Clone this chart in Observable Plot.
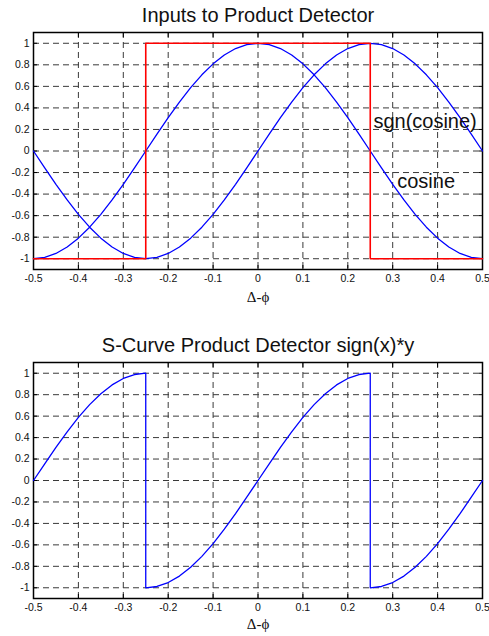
<!DOCTYPE html>
<html>
<head>
<meta charset="utf-8">
<script src="https://cdn.jsdelivr.net/npm/d3@7"></script>
<script src="https://cdn.jsdelivr.net/npm/@observablehq/plot@0.6"></script>
<style>
  html, body { margin: 0; padding: 0; background: #fff; }
  #chart svg { display: block; }
</style>
</head>
<body>
<div id="chart"></div>
<script>
// ---- data ----
const titleTop = "Inputs to Product Detector";
const titleBottom = "S-Curve Product Detector sign(x)*y";
const xLabel = "Δ-ϕ";

const xTicks = [-0.5, -0.4, -0.3, -0.2, -0.1, 0, 0.1, 0.2, 0.3, 0.4, 0.5];
const xTickLabels = ["-0.5", "-0.4", "-0.3", "-0.2", "-0.1", "0", "0.1", "0.2", "0.3", "0.4", "0.5"];
const yTicks = [-1, -0.8, -0.6, -0.4, -0.2, 0, 0.2, 0.4, 0.6, 0.8, 1];
const yTickLabels = ["-1", "-0.8", "-0.6", "-0.4", "-0.2", "0", "0.2", "0.4", "0.6", "0.8", "1"];

const phase = [-0.5, -0.475, -0.45, -0.425, -0.4, -0.375, -0.35, -0.325, -0.3, -0.275,
  -0.25, -0.225, -0.2, -0.175, -0.15, -0.125, -0.1, -0.075, -0.05, -0.025,
  0, 0.025, 0.05, 0.075, 0.1, 0.125, 0.15, 0.175, 0.2, 0.225,
  0.25, 0.275, 0.3, 0.325, 0.35, 0.375, 0.4, 0.425, 0.45, 0.475, 0.5];
const cosine = [-1, -0.988, -0.951, -0.891, -0.809, -0.707, -0.588, -0.454, -0.309, -0.156,
  0, 0.156, 0.309, 0.454, 0.588, 0.707, 0.809, 0.891, 0.951, 0.988,
  1, 0.988, 0.951, 0.891, 0.809, 0.707, 0.588, 0.454, 0.309, 0.156,
  0, -0.156, -0.309, -0.454, -0.588, -0.707, -0.809, -0.891, -0.951, -0.988, -1];
const sine = [0, -0.156, -0.309, -0.454, -0.588, -0.707, -0.809, -0.891, -0.951, -0.988,
  -1, -0.988, -0.951, -0.891, -0.809, -0.707, -0.588, -0.454, -0.309, -0.156,
  0, 0.156, 0.309, 0.454, 0.588, 0.707, 0.809, 0.891, 0.951, 0.988,
  1, 0.988, 0.951, 0.891, 0.809, 0.707, 0.588, 0.454, 0.309, 0.156, 0];

const sgnX = [-0.5, -0.25, -0.25, 0.25, 0.25, 0.5];
const sgnY = [-1, -1, 1, 1, -1, -1];

const sCurveX = [-0.5, -0.475, -0.45, -0.425, -0.4, -0.375, -0.35, -0.325, -0.3, -0.275, -0.25,
  -0.25, -0.225, -0.2, -0.175, -0.15, -0.125, -0.1, -0.075, -0.05, -0.025,
  0, 0.025, 0.05, 0.075, 0.1, 0.125, 0.15, 0.175, 0.2, 0.225, 0.25,
  0.25, 0.275, 0.3, 0.325, 0.35, 0.375, 0.4, 0.425, 0.45, 0.475, 0.5];
const sCurveY = [0, 0.156, 0.309, 0.454, 0.588, 0.707, 0.809, 0.891, 0.951, 0.988, 1,
  -1, -0.988, -0.951, -0.891, -0.809, -0.707, -0.588, -0.454, -0.309, -0.156,
  0, 0.156, 0.309, 0.454, 0.588, 0.707, 0.809, 0.891, 0.951, 0.988, 1,
  -1, -0.988, -0.951, -0.891, -0.809, -0.707, -0.588, -0.454, -0.309, -0.156, 0];

const annotations = [
  {x: 0.257, y: 0.27, text: "sgn(cosine)"},
  {x: 0.31, y: -0.28, text: "cosine"}
];

// ---- helpers ----
const toRows = (xs, ys) => xs.map((x, i) => ({x, y: ys[i]}));
const fmtX = d => xTickLabels[xTicks.indexOf(d)];
const fmtY = d => yTickLabels[yTicks.indexOf(d)];
const font = "Arial, 'Liberation Sans', Helvetica, sans-serif";
const serif = "'Liberation Serif', 'DejaVu Serif', serif";

function frameMarks() {
  const g = {stroke: "#3a3a3a", strokeOpacity: 1, strokeWidth: 1, strokeDasharray: "6,4"};
  return [
    Plot.gridX(xTicks, g),
    Plot.gridY(yTicks, g),
    Plot.axisX(xTicks, {anchor: "bottom", tickSize: 0, tickPadding: 5, tickFormat: fmtX, label: null, fontSize: 10.5, fill: "#111"}),
    Plot.axisY(yTicks, {anchor: "left", tickSize: 0, tickPadding: 4, tickFormat: fmtY, label: null, fontSize: 10.5, fill: "#111"}),
    Plot.axisX(xTicks, {anchor: "bottom", tickSize: 4, dy: -4, tickFormat: () => "", label: null}),
    Plot.axisX(xTicks, {anchor: "top", tickSize: 4, dy: 4, tickFormat: () => "", label: null}),
    Plot.axisY(yTicks, {anchor: "left", tickSize: 4, dx: 4, tickFormat: () => "", label: null}),
    Plot.axisY(yTicks, {anchor: "right", tickSize: 4, dx: -4, tickFormat: () => "", label: null}),
    Plot.frame({stroke: "#000", strokeWidth: 1.5})
  ];
}

const plotTop = Plot.plot({
  width: 489, height: 318,
  marginLeft: 33, marginRight: 7, marginTop: 32, marginBottom: 49,
  x: {domain: [-0.5, 0.5]},
  y: {domain: [-1.1, 1.1]},
  style: {fontFamily: font, fontSize: "10.5px", background: "#fff", overflow: "visible"},
  marks: [
    ...frameMarks(),
    Plot.line(toRows(phase, sine), {x: "x", y: "y", stroke: "#0000ff", strokeWidth: 1.3}),
    Plot.line(toRows(phase, cosine), {x: "x", y: "y", stroke: "#0000ff", strokeWidth: 1.3}),
    Plot.line(toRows(sgnX, sgnY), {x: "x", y: "y", stroke: "#ff0000", strokeWidth: 1.6}),
    Plot.text(annotations, {x: "x", y: "y", text: "text", textAnchor: "start", lineAnchor: "middle", fontSize: 20, fill: "#111", fontFamily: font}),
    Plot.text([titleTop], {frameAnchor: "top", lineAnchor: "middle", dy: -17.4, fontSize: 20, fill: "#111", fontFamily: font}),
    Plot.text([xLabel], {frameAnchor: "bottom", lineAnchor: "middle", dy: 27.7, fontSize: 15, fill: "#111", fontFamily: serif})
  ]
});

const plotBottom = Plot.plot({
  width: 489, height: 318,
  marginLeft: 33, marginRight: 7, marginTop: 44, marginBottom: 38,
  x: {domain: [-0.5, 0.5]},
  y: {domain: [-1.1, 1.1]},
  style: {fontFamily: font, fontSize: "10.5px", background: "#fff", overflow: "visible"},
  marks: [
    ...frameMarks(),
    Plot.line(toRows(sCurveX, sCurveY), {x: "x", y: "y", stroke: "#0000ff", strokeWidth: 1.3}),
    Plot.text([titleBottom], {frameAnchor: "top", lineAnchor: "middle", dy: -16.7, fontSize: 20, fill: "#111", fontFamily: font}),
    Plot.text([xLabel], {frameAnchor: "bottom", lineAnchor: "middle", dy: 25.7, fontSize: 15, fill: "#111", fontFamily: serif})
  ]
});

document.getElementById("chart").append(plotTop, plotBottom);
</script>
</body>
</html>
